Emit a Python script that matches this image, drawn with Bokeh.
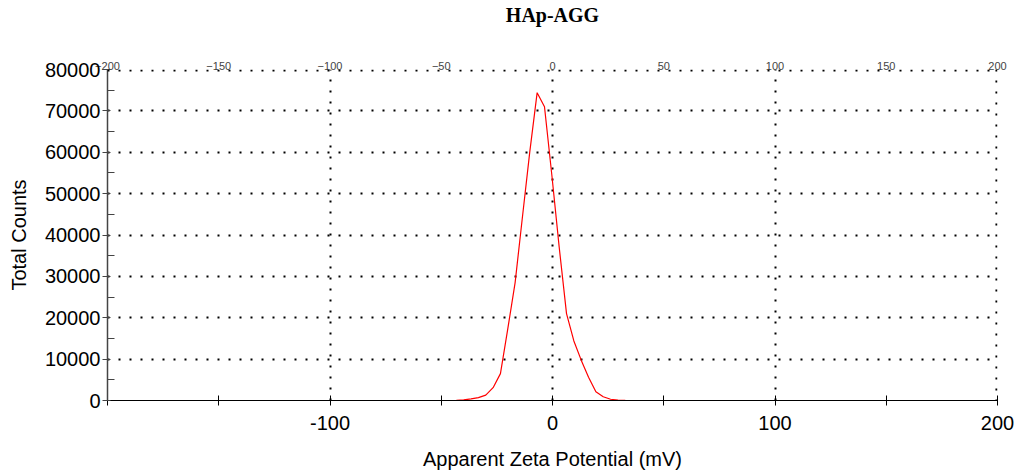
from bokeh.plotting import figure
from bokeh.models import FixedTicker, Range1d, Span, LinearAxis
from bokeh.embed import file_html
from bokeh.resources import INLINE

# Data
zeta_mv = [-150, -100, -50, -43.2, -39.9, -36.6, -33.3, -30.0, -26.7, -23.4,
           -20.1, -16.8, -13.5, -10.2, -6.9, -3.6, -0.3, 3.0, 6.3, 9.6,
           12.9, 16.2, 19.5, 22.8, 26.1, 29.4, 32.7, 36.0, 50, 100, 150]
total_counts = [0, 0, 0, 50, 150, 400, 700, 1300, 3100, 6500,
                17300, 28500, 44400, 60150, 74400, 71000, 54500, 37100, 21000, 14400,
                9750, 5640, 2100, 900, 300, 100, 30, 0, 0, 0, 0]

title_text = "HAp-AGG"
x_ticks = [-200, -150, -100, -50, 0, 50, 100, 150, 200]
x_labels = {-200: "", -150: "", -100: "-100", -50: "", 0: "0", 50: "", 100: "100", 150: "", 200: "200"}
x_grid = [-100, 0, 100, 200]
y_ticks = [0, 10000, 20000, 30000, 40000, 50000, 60000, 70000, 80000]
y_minor = [5000, 15000, 25000, 35000, 45000, 55000, 65000, 75000]
y_grid = [10000, 20000, 30000, 40000, 50000, 60000, 70000, 80000]

x_lo, x_hi = -200, 200
y_lo, y_hi = 0, 80000

p = figure(width=1024, height=474, output_backend="svg", toolbar_location=None,
           x_range=Range1d(x_lo, x_hi), y_range=Range1d(y_lo, y_hi),
           min_border_left=107, min_border_right=27, min_border_top=66, min_border_bottom=74,
           title=None)
p.outline_line_color = None
p.background_fill_color = "white"
p.border_fill_color = "white"

# Title drawn as the label of a bare axis above the frame (lets us set its height)
title_axis = LinearAxis(ticker=FixedTicker(ticks=[]), axis_label=title_text,
                        axis_line_color=None, major_tick_line_color=None,
                        minor_tick_line_color=None, major_tick_in=0, major_tick_out=0,
                        minor_tick_in=0, minor_tick_out=0, major_label_standoff=0,
                        axis_label_standoff=33,
                        axis_label_text_font="Liberation Serif",
                        axis_label_text_font_style="bold",
                        axis_label_text_font_size="20px",
                        axis_label_text_color="black")
p.add_layout(title_axis, "above")

# X axis
p.xaxis[0].ticker = FixedTicker(ticks=x_ticks)
xa = p.below[0]
xa.ticker = FixedTicker(ticks=x_ticks)
xa.major_label_overrides = x_labels
xa.axis_label = "Apparent Zeta Potential (mV)"
xa.axis_label_text_font = "Liberation Sans"
xa.axis_label_text_font_style = "normal"
xa.axis_label_text_font_size = "20px"
xa.axis_label_text_color = "black"
xa.axis_label_standoff = 15
xa.major_label_text_font = "Liberation Sans"
xa.major_label_text_font_size = "20px"
xa.major_label_text_color = "black"
xa.major_label_standoff = 10
xa.major_tick_in = 5
xa.major_tick_out = 5
xa.major_tick_line_color = "black"
xa.axis_line_color = "black"
xa.minor_tick_line_color = None

# Y axis
p.yaxis.ticker = FixedTicker(ticks=y_ticks, minor_ticks=y_minor)
p.yaxis.axis_label = "Total Counts"
p.yaxis.axis_label_text_font = "Liberation Sans"
p.yaxis.axis_label_text_font_style = "normal"
p.yaxis.axis_label_text_font_size = "20px"
p.yaxis.axis_label_text_color = "black"
p.yaxis.axis_label_standoff = 12
p.yaxis.major_label_text_font = "Liberation Sans"
p.yaxis.major_label_text_font_size = "20px"
p.yaxis.major_label_text_color = "black"
p.yaxis.major_label_standoff = 2
p.yaxis.major_tick_in = 3
p.yaxis.major_tick_out = 5
p.yaxis.minor_tick_in = 7
p.yaxis.minor_tick_out = 0
p.yaxis.major_tick_line_color = "#444444"
p.yaxis.minor_tick_line_color = "#444444"
p.yaxis.axis_line_color = "#444444"
p.yaxis.axis_line_width = 1.5

# Grids (dotted)
p.xgrid.ticker = FixedTicker(ticks=x_grid)
p.ygrid.ticker = FixedTicker(ticks=y_grid)
for g in (p.xgrid, p.ygrid):
    g.grid_line_color = "black"
    g.grid_line_width = 2
    g.grid_line_dash = "2 9"

# Dotted frame edges at the top and right, nudged inside so they are not clipped
p.add_layout(Span(location=y_hi - (y_hi - y_lo) * 0.003, dimension="width",
                  line_color="black", line_width=2, line_dash="2 9"))
p.add_layout(Span(location=x_hi - (x_hi - x_lo) * 0.0012, dimension="height",
                  line_color="black", line_width=2, line_dash="2 9"))

p.line(zeta_mv, total_counts, line_color="#ff0000", line_width=1.2)

open("out.html", "w").write(file_html(p, INLINE))
